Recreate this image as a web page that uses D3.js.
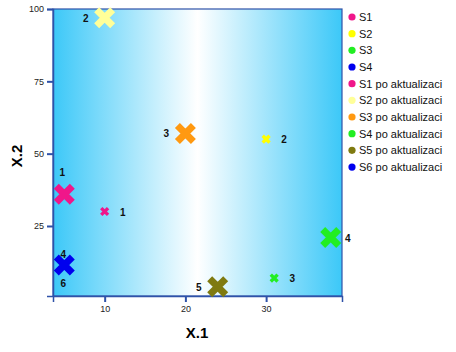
<!DOCTYPE html>
<html>
<head>
    <script src="https://d3js.org/d3.v7.min.js"></script>
    <style>
        body { margin: 0; background: #fff; }
        text { font-family: Arial, "Liberation Sans", sans-serif; }
        .tick text { font-size: 9px; fill: #222; }
    </style>
</head>
<body>
    <svg width="456" height="352"></svg>

    <script>
        // Data
        const seriesNames = ["S1", "S2", "S3", "S4",
            "S1 po aktualizaci", "S2 po aktualizaci", "S3 po aktualizaci",
            "S4 po aktualizaci", "S5 po aktualizaci", "S6 po aktualizaci"];
        const seriesColors = ["#f0168a", "#ffff00", "#22ee22", "#0000ee",
            "#f0168a", "#ffff99", "#ff9911", "#22ee22", "#7f7a10", "#0000ee"];
        const xValues = [10, 30, 31, 5, 5, 10, 20, 38, 24, 5];
        const yValues = [30, 55, 7, 11.5, 36, 97, 57, 21, 4, 11.5];
        const pointLabels = ["1", "2", "3", "4", "1", "2", "3", "4", "5", "6"];
        const isUpdated = [false, false, false, false, true, true, true, true, true, true];
        const xTicks = [10, 20, 30];
        const yTicks = [25, 50, 75, 100];

        // Label placement relative to the marker
        const labelSide = ["right", "right", "right", "above", "above", "left", "left", "right", "left", "below"];

        const svg = d3.select("svg");
        const plot = { left: 53, right: 342, top: 9, bottom: 296 };

        const x = d3.scaleLinear().domain([3.6, 39.4]).range([plot.left, plot.right]);
        const y = d3.scaleLinear().domain([0.8, 100]).range([plot.bottom, plot.top]);

        // Background gradient
        const grad = svg.append("defs").append("linearGradient")
            .attr("id", "bg").attr("x1", "0%").attr("x2", "100%").attr("y1", "0%").attr("y2", "0%");
        grad.selectAll("stop")
            .data([[0, "#3cc8f8"], [0.5, "#ffffff"], [1, "#3cc8f8"]])
            .enter().append("stop")
            .attr("offset", d => d[0])
            .attr("stop-color", d => d[1]);

        svg.append("rect")
            .attr("x", plot.left).attr("y", plot.top)
            .attr("width", plot.right - plot.left).attr("height", plot.bottom - plot.top)
            .attr("fill", "url(#bg)")
            .attr("stroke", "#2f52a8").attr("stroke-width", 1.2);

        // Axes
        const axisColor = "#2f52a8";
        const yAxis = svg.append("g")
            .attr("transform", `translate(${plot.left},0)`)
            .call(d3.axisLeft(y).tickValues(yTicks).tickSize(6).tickPadding(3));
        const xAxis = svg.append("g")
            .attr("transform", `translate(0,${plot.bottom})`)
            .call(d3.axisBottom(x).tickValues(xTicks).tickSize(6).tickPadding(4));
        [xAxis, yAxis].forEach(g => {
            g.select(".domain").attr("stroke", axisColor).attr("stroke-width", 1.5);
            g.selectAll(".tick line").attr("stroke", axisColor).attr("stroke-width", 2);
            g.selectAll(".tick text").attr("font-family", "Arial, sans-serif");
        });

        svg.append("text")
            .attr("transform", "translate(22,156) rotate(-90)")
            .attr("text-anchor", "middle")
            .attr("font-size", "15px").attr("font-weight", "bold")
            .text("X.2");
        svg.append("text")
            .attr("x", 197).attr("y", 338)
            .attr("text-anchor", "middle")
            .attr("font-size", "15px").attr("font-weight", "bold")
            .text("X.1");

        // Markers
        const points = seriesNames.map((name, i) => ({
            name, color: seriesColors[i], x: xValues[i], y: yValues[i],
            label: pointLabels[i], big: isUpdated[i], side: labelSide[i]
        }));

        const order = [3, 0, 1, 2, 4, 5, 6, 7, 8, 9];
        const marks = svg.append("g").selectAll("g")
            .data(order.map(i => points[i]))
            .enter().append("g")
            .attr("transform", d => `translate(${x(d.x)},${y(d.y)})`);

        marks.append("path")
            .attr("d", d => {
                const r = d.big ? 8 : 3.4;
                return `M${-r},${-r}L${r},${r}M${-r},${r}L${r},${-r}`;
            })
            .attr("stroke", d => d.color)
            .attr("stroke-width", d => d.big ? 7 : 3.4)
            .attr("fill", "none");

        const offsets = {
            right: d => [d.big ? 17 : 18, 4],
            left: d => [d.big ? -19 : -16, 4],
            above: d => [d.big ? -2 : -1, d.big ? -18 : -7],
            below: d => [-1, 22]
        };
        marks.append("text")
            .attr("x", d => offsets[d.side](d)[0])
            .attr("y", d => offsets[d.side](d)[1])
            .attr("text-anchor", "middle")
            .attr("font-size", "10px").attr("font-weight", "bold")
            .attr("font-family", d => (d.label === "4" || d.label === "6") && d.side !== "right" ? "'Liberation Serif', serif" : "Arial, sans-serif")
            .attr("fill", "#111")
            .text(d => d.label);

        // Legend
        const legend = svg.append("g").selectAll("g")
            .data(points)
            .enter().append("g")
            .attr("transform", (d, i) => `translate(352,${17 + i * 16.67})`);
        legend.append("circle")
            .attr("r", 3.6)
            .attr("fill", d => d.color);
        legend.append("text")
            .attr("x", 7).attr("y", 4)
            .attr("font-size", "11px")
            .attr("fill", "#111")
            .text(d => d.name);
    </script>
</body>
</html>
